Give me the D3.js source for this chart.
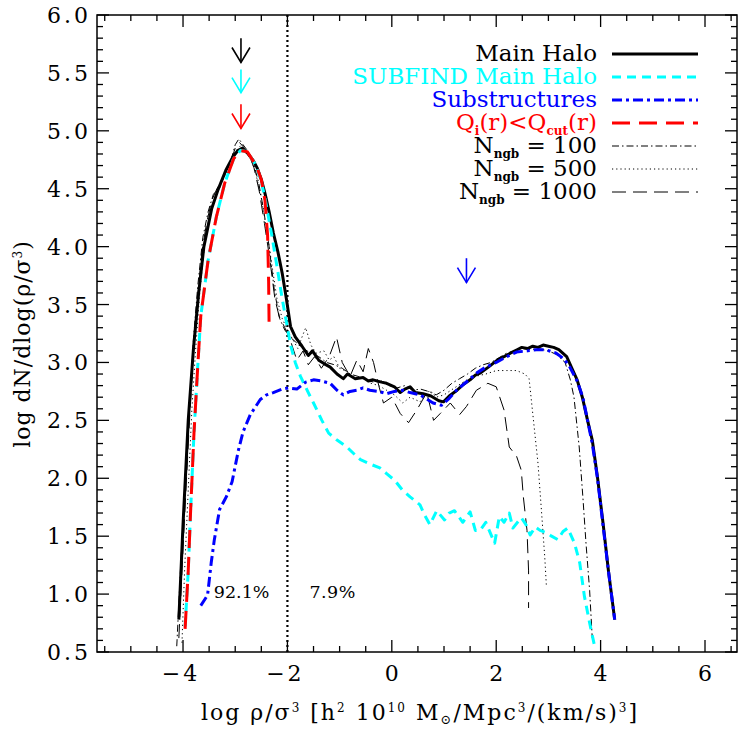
<!DOCTYPE html>
<html><head><meta charset="utf-8">
<script src="https://cdn.jsdelivr.net/npm/d3@7"></script>
<style>body{margin:0;background:#fff}svg{display:block}</style>
</head><body>
<svg id="c" width="750" height="750"></svg>
<script>
// ---------- data ----------
const xDomain = [-5.648, 6.613];
const yDomain = [0.5, 6.0];
const xTickLabels = [-4, -2, 0, 2, 4, 6];
const yTickLabels = [0.5, 1.0, 1.5, 2.0, 2.5, 3.0, 3.5, 4.0, 4.5, 5.0, 5.5, 6.0];

const mainHalo = [[-4.08,0.78],[-4.0,1.6],[-3.9,2.5],[-3.8,3.12],[-3.7,3.6],[-3.6,4.0],[-3.45,4.33],[-3.33,4.49],[-3.18,4.66],[-3.05,4.77],[-2.95,4.83],[-2.87,4.85],[-2.75,4.8],[-2.65,4.74],[-2.58,4.68],[-2.5,4.58],[-2.43,4.46],[-2.35,4.3],[-2.27,4.12],[-2.18,3.95],[-2.1,3.77],[-2.02,3.55],[-1.94,3.31],[-1.85,3.22],[-1.72,3.14],[-1.6,3.06],[-1.52,3.1],[-1.4,3.02],[-1.3,2.99],[-1.18,2.96],[-1.05,2.9],[-0.93,2.86],[-0.85,2.9],[-0.7,2.86],[-0.55,2.87],[-0.45,2.84],[-0.36,2.85],[-0.2,2.83],[-0.1,2.82],[0.05,2.79],[0.16,2.74],[0.25,2.77],[0.35,2.79],[0.45,2.74],[0.6,2.73],[0.75,2.71],[0.9,2.67],[0.99,2.66],[1.1,2.71],[1.25,2.76],[1.37,2.81],[1.5,2.85],[1.6,2.89],[1.7,2.91],[1.85,2.96],[2.02,3.02],[2.15,3.05],[2.27,3.08],[2.4,3.11],[2.49,3.13],[2.6,3.12],[2.7,3.14],[2.8,3.13],[2.9,3.15],[3.0,3.14],[3.1,3.13],[3.2,3.11],[3.35,3.05],[3.45,2.95],[3.55,2.85],[3.65,2.7],[3.75,2.5],[3.84,2.33],[3.94,2.01],[4.05,1.6],[4.15,1.2],[4.27,0.78]];

const subfindMain = [[-3.96,0.72],[-3.9,1.2],[-3.86,1.66],[-3.79,2.39],[-3.72,2.95],[-3.66,3.4],[-3.52,3.88],[-3.36,4.26],[-3.2,4.55],[-3.03,4.76],[-2.9,4.83],[-2.77,4.82],[-2.6,4.7],[-2.5,4.56],[-2.43,4.42],[-2.3,4.1],[-2.2,3.83],[-2.1,3.55],[-2.0,3.3],[-1.94,3.15],[-1.85,3.0],[-1.75,2.88],[-1.6,2.74],[-1.5,2.65],[-1.34,2.5],[-1.21,2.39],[-1.05,2.33],[-0.86,2.27],[-0.7,2.2],[-0.6,2.16],[-0.4,2.12],[-0.23,2.09],[-0.1,2.04],[0.06,1.98],[0.2,1.9],[0.35,1.84],[0.54,1.77],[0.63,1.68],[0.73,1.6],[0.86,1.72],[1.01,1.64],[1.1,1.7],[1.2,1.72],[1.36,1.62],[1.5,1.71],[1.6,1.55],[1.69,1.55],[1.8,1.62],[1.97,1.44],[2.06,1.67],[2.15,1.62],[2.25,1.7],[2.32,1.57],[2.48,1.66],[2.57,1.6],[2.65,1.51],[2.75,1.58],[2.84,1.55],[2.96,1.53],[3.06,1.5],[3.18,1.47],[3.28,1.54],[3.37,1.57],[3.5,1.44],[3.6,1.27],[3.69,0.98],[3.79,0.75],[3.88,0.56]];

const substructures = [[-3.66,0.9],[-3.53,0.99],[-3.46,1.27],[-3.4,1.47],[-3.3,1.73],[-3.17,1.84],[-3.06,1.97],[-2.94,2.24],[-2.85,2.4],[-2.71,2.55],[-2.52,2.68],[-2.4,2.72],[-2.27,2.74],[-2.1,2.77],[-1.98,2.78],[-1.82,2.77],[-1.65,2.83],[-1.5,2.85],[-1.35,2.84],[-1.18,2.82],[-1.05,2.76],[-0.93,2.72],[-0.8,2.75],[-0.67,2.76],[-0.55,2.78],[-0.42,2.76],[-0.25,2.75],[-0.1,2.73],[0.05,2.75],[0.21,2.76],[0.35,2.74],[0.54,2.72],[0.65,2.69],[0.79,2.65],[0.95,2.63],[1.1,2.69],[1.24,2.76],[1.45,2.84],[1.63,2.91],[1.8,2.96],[2.0,3.0],[2.2,3.05],[2.39,3.09],[2.6,3.1],[2.77,3.11],[2.95,3.11],[3.15,3.08],[3.3,3.03],[3.41,2.96],[3.55,2.84],[3.66,2.7],[3.75,2.5],[3.84,2.3],[3.94,2.0],[4.05,1.58],[4.15,1.2],[4.27,0.78]];

const qCut = [[-3.96,0.7],[-3.9,1.2],[-3.86,1.66],[-3.79,2.39],[-3.72,2.95],[-3.66,3.4],[-3.52,3.88],[-3.36,4.26],[-3.2,4.55],[-3.03,4.76],[-2.9,4.83],[-2.77,4.82],[-2.6,4.7],[-2.5,4.58],[-2.43,4.4],[-2.38,4.1],[-2.36,3.7],[-2.35,3.28]];

const ngb100 = [[-4.12,0.55],[-4.05,1.2],[-3.97,1.9],[-3.88,2.6],[-3.8,3.2],[-3.72,3.65],[-3.62,4.08],[-3.52,4.3],[-3.42,4.45],[-3.3,4.52],[-3.2,4.62],[-3.08,4.75],[-3.0,4.88],[-2.93,4.93],[-2.85,4.88],[-2.75,4.82],[-2.65,4.72],[-2.55,4.55],[-2.45,4.3],[-2.35,4.0],[-2.25,3.62],[-2.15,3.38],[-2.05,3.28],[-1.95,3.22],[-1.85,3.18],[-1.7,3.12],[-1.55,3.08],[-1.4,3.05],[-1.25,3.0],[-1.1,2.98],[-0.95,2.95],[-0.8,2.9],[-0.65,2.88],[-0.5,2.85],[-0.35,2.83],[-0.2,2.84],[-0.05,2.8],[0.1,2.78],[0.25,2.8],[0.4,2.76],[0.55,2.77],[0.7,2.75],[0.85,2.72],[1.0,2.76],[1.15,2.82],[1.3,2.86],[1.45,2.9],[1.6,2.95],[1.75,2.98],[1.9,3.0],[2.05,3.04],[2.2,3.08],[2.35,3.1],[2.5,3.12],[2.65,3.11],[2.8,3.12],[3.0,3.1],[3.15,3.07],[3.32,3.0],[3.42,2.85],[3.49,2.7],[3.59,2.27],[3.66,1.84],[3.72,1.44],[3.79,1.03],[3.84,0.62]];

const ngb500 = [[-4.02,0.58],[-3.97,1.2],[-3.9,1.9],[-3.83,2.6],[-3.76,3.1],[-3.68,3.6],[-3.58,4.05],[-3.48,4.3],[-3.38,4.42],[-3.25,4.56],[-3.12,4.7],[-3.0,4.82],[-2.9,4.87],[-2.8,4.84],[-2.7,4.76],[-2.6,4.62],[-2.5,4.42],[-2.4,4.15],[-2.3,3.85],[-2.2,3.55],[-2.1,3.38],[-2.0,3.28],[-1.9,3.2],[-1.8,3.12],[-1.72,3.22],[-1.65,3.3],[-1.55,3.15],[-1.45,3.08],[-1.3,3.1],[-1.2,3.02],[-1.11,3.05],[-1.0,2.95],[-0.85,2.92],[-0.7,2.85],[-0.55,2.87],[-0.4,2.82],[-0.25,2.8],[-0.1,2.76],[0.05,2.72],[0.21,2.65],[0.35,2.7],[0.54,2.66],[0.73,2.76],[0.85,2.7],[1.0,2.72],[1.2,2.78],[1.4,2.84],[1.6,2.88],[1.8,2.9],[2.0,2.93],[2.2,2.93],[2.39,2.93],[2.55,2.9],[2.63,2.86],[2.7,2.56],[2.8,2.13],[2.87,1.7],[2.93,1.32],[2.96,1.08]];

const ngb1000 = [[-4.08,0.62],[-4.02,1.2],[-3.95,1.85],[-3.87,2.55],[-3.8,3.1],[-3.72,3.55],[-3.64,3.95],[-3.55,4.2],[-3.45,4.4],[-3.35,4.5],[-3.22,4.6],[-3.1,4.72],[-3.0,4.85],[-2.92,4.9],[-2.84,4.86],[-2.74,4.8],[-2.64,4.68],[-2.54,4.48],[-2.44,4.2],[-2.34,3.9],[-2.24,3.55],[-2.16,3.4],[-2.05,3.3],[-1.95,3.2],[-1.82,3.02],[-1.7,3.1],[-1.6,2.98],[-1.48,3.05],[-1.35,2.95],[-1.2,3.05],[-1.06,3.22],[-0.95,3.0],[-0.8,2.88],[-0.67,3.02],[-0.55,2.92],[-0.45,3.12],[-0.35,3.0],[-0.25,2.8],[-0.16,2.65],[0.0,2.7],[0.16,2.56],[0.32,2.48],[0.48,2.59],[0.67,2.74],[0.8,2.5],[0.93,2.56],[1.12,2.65],[1.3,2.55],[1.43,2.62],[1.62,2.76],[1.84,2.82],[2.0,2.79],[2.15,2.59],[2.25,2.27],[2.39,2.19],[2.48,2.07],[2.52,1.84],[2.59,1.55],[2.62,1.2],[2.62,0.88]];

const dividerX = -2;
const percentLabels = ["92.1%", "7.9%"];
const percentY = 0.97;
// arrows: x, top y, bottom y
const arrowX = [-2.89, -2.89, -2.89, 1.43];
const arrowTop = [5.80, 5.53, 5.23, 3.90];
const arrowBottom = [5.59, 5.33, 5.02, 3.69];
const arrowColors = ["#000000", "#00ffff", "#ff0000", "#0000ff"];

// ---------- layout ----------
const L = 97, R = 737, T = 15, B = 652;
const FONT = "DejaVu Serif";
const svg = d3.select("#c");
const x = d3.scaleLinear().domain(xDomain).range([L, R]);
const y = d3.scaleLinear().domain(yDomain).range([B, T]);

const g = svg.append("g");
svg.append("defs").append("clipPath").attr("id","pc").append("rect")
  .attr("x", L).attr("y", T).attr("width", R-L).attr("height", B-T);

const line = d3.line().x(d => x(d[0])).y(d => y(d[1]));
const plot = g.append("g").attr("clip-path","url(#pc)");

// divider
plot.append("line").attr("x1", x(dividerX)).attr("x2", x(dividerX)).attr("y1", T).attr("y2", B)
  .attr("stroke","#000").attr("stroke-width",2.2).attr("stroke-dasharray","2,3");

const styles = [
  {data: mainHalo, color:"#000", w:3, dash:null},
  {data: ngb100, color:"#000", w:1, dash:"7,3,1.5,3"},
  {data: ngb500, color:"#000", w:1, dash:"1.2,3"},
  {data: ngb1000, color:"#000", w:1, dash:"14,7"},
  {data: subfindMain, color:"#00ffff", w:3, dash:"9,6"},
  {data: substructures, color:"#0000ff", w:3, dash:"10,4,3,4"},
  {data: qCut, color:"#ff0000", w:3, dash:"18,9"}
];
styles.forEach(s => {
  plot.append("path").datum(s.data).attr("d", line).attr("fill","none")
    .attr("stroke", s.color).attr("stroke-width", s.w)
    .attr("stroke-dasharray", s.dash).attr("stroke-linejoin","round");
});

// arrows
arrowX.forEach((ax, i) => {
  const px = x(ax), y0 = y(arrowTop[i]), y1 = y(arrowBottom[i]);
  const a = g.append("g").attr("stroke", arrowColors[i]).attr("stroke-width",1.6).attr("fill","none");
  a.append("line").attr("x1",px).attr("x2",px).attr("y1",y0).attr("y2",y1);
  a.append("path").attr("d", `M${px-9},${y1-15}L${px},${y1}L${px+9},${y1-15}`);
});

// percent labels
g.append("text").attr("x", x(dividerX)-18).attr("y", y(percentY)).attr("text-anchor","end")
  .attr("font-family",FONT).attr("font-size",17.5).text(percentLabels[0]);
g.append("text").attr("x", x(dividerX)+22).attr("y", y(percentY)).attr("text-anchor","start")
  .attr("font-family",FONT).attr("font-size",17.5).attr("letter-spacing",0.5).text(percentLabels[1]);

// axes frame
g.append("rect").attr("x",L).attr("y",T).attr("width",R-L).attr("height",B-T)
  .attr("fill","none").attr("stroke","#000").attr("stroke-width",1.5);

const xMinor = d3.range(-5.5, 6.51, 0.5);
const yMinor = d3.range(0.5, 6.001, 0.1);
const ticks = g.append("g").attr("stroke","#000").attr("stroke-width",1.3);
xMinor.forEach(v => {
  const major = Math.abs(v/2 - Math.round(v/2)) < 1e-6;
  const len = major ? 12 : 6;
  ticks.append("line").attr("x1",x(v)).attr("x2",x(v)).attr("y1",B).attr("y2",B-len);
  ticks.append("line").attr("x1",x(v)).attr("x2",x(v)).attr("y1",T).attr("y2",T+len);
});
yMinor.forEach(v => {
  const major = Math.abs(v*2 - Math.round(v*2)) < 1e-6;
  const len = major ? 12 : 6;
  ticks.append("line").attr("x1",L).attr("x2",L+len).attr("y1",y(v)).attr("y2",y(v));
  ticks.append("line").attr("x1",R).attr("x2",R-len).attr("y1",y(v)).attr("y2",y(v));
});

xTickLabels.forEach(v => {
  g.append("text").attr("x", x(v) + (v < 0 ? -2 : 1.5)).attr("y", 681).attr("text-anchor","middle")
    .attr("font-family",FONT).attr("font-size",22).attr("letter-spacing",3)
    .text(v < 0 ? "\u2212" + Math.abs(v) : String(v));
});
yTickLabels.forEach(v => {
  g.append("text").attr("x", 91).attr("y", y(v)+8).attr("text-anchor","end")
    .attr("font-family",FONT).attr("font-size",22).attr("letter-spacing",3)
    .text(v.toFixed(1));
});

// axis titles
const xt = g.append("text").attr("x", 420).attr("y", 720).attr("text-anchor","middle")
  .attr("font-family",FONT).attr("font-size",22).attr("letter-spacing",2);
function sup(t, s){ t.append("tspan").attr("dy",-8).attr("font-size",12).text(s); }
function back(t, s){ t.append("tspan").attr("dy",8).text(s); }
xt.append("tspan").text("log \u03c1/\u03c3");
sup(xt,"3"); back(xt," [h"); sup(xt,"2"); back(xt," 10"); sup(xt,"10");
back(xt," M"); xt.append("tspan").attr("dy",4).attr("font-size",13).text("\u2299");
xt.append("tspan").attr("dy",-4).text("/Mpc"); sup(xt,"3"); back(xt,"/(km/s)"); sup(xt,"3"); back(xt,"]");

const yt = g.append("text").attr("transform","translate(30,344) rotate(-90)").attr("text-anchor","middle")
  .attr("font-family",FONT).attr("font-size",22).attr("letter-spacing",1);
yt.append("tspan").text("log dN/dlog(\u03c1/\u03c3");
sup(yt,"3"); back(yt,")");

// legend
const legendY = [61, 84, 107, 130, 153, 176, 199];
const leg = g.append("g").attr("font-family",FONT).attr("font-size",23);
const legStyles = [styles[0], styles[4], styles[5], styles[6], styles[1], styles[2], styles[3]];
const legColors = ["#000","#00ffff","#0000ff","#ff0000","#000","#000","#000"];
function addSub(t, s){ t.append("tspan").attr("dy",5).attr("font-size",12).attr("font-weight","bold").text(s); }
legendY.forEach((ly, i) => {
  const t = leg.append("text").attr("x",597).attr("y",ly).attr("text-anchor","end").attr("fill",legColors[i]);
  if (i === 0) t.text("Main Halo");
  else if (i === 1) t.text("SUBFIND Main Halo");
  else if (i === 2) t.text("Substructures");
  else if (i === 3) {
    t.append("tspan").text("Q"); addSub(t,"i"); t.append("tspan").attr("dy",-5).text("(r)<Q");
    addSub(t,"cut"); t.append("tspan").attr("dy",-5).text("(r)");
  } else {
    const n = ["100","500","1000"][i-4];
    t.append("tspan").text("N"); addSub(t,"ngb");
    t.append("tspan").attr("dy",-5).text(" = " + n);
  }
  const s = legStyles[i];
  leg.append("line").attr("x1",612).attr("x2",698).attr("y1",ly-7).attr("y2",ly-7)
    .attr("stroke",s.color).attr("stroke-width",s.w).attr("stroke-dasharray",s.dash);
});
</script>
</body></html>
